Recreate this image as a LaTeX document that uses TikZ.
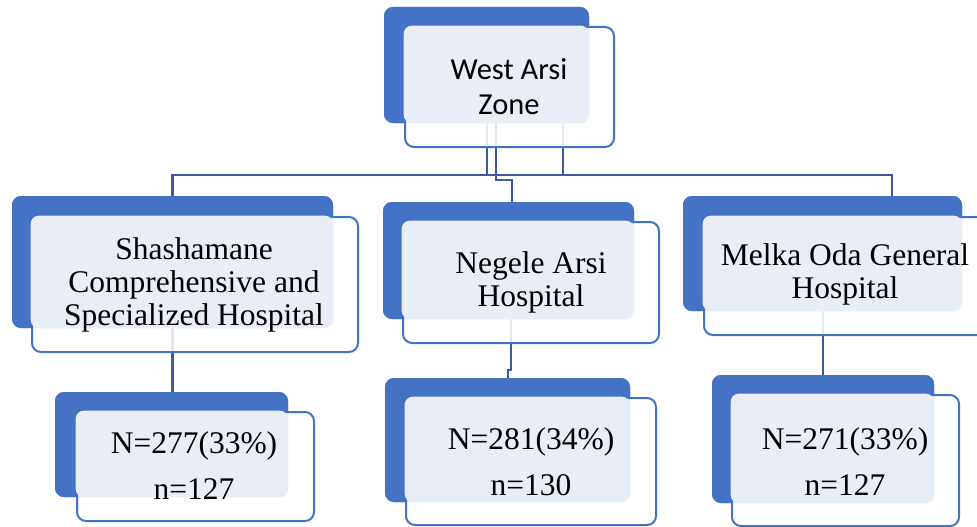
\documentclass[tikz,border=0pt]{standalone}
\usepackage{fontspec}
\setmainfont{Liberation Serif}
\newfontfamily\calib{Carlito}
\usetikzlibrary{fit}
\definecolor{accA}{HTML}{4472C4}
\definecolor{lightA}{HTML}{E9EDF6}
\definecolor{connA}{HTML}{3B5CA5}
\tikzset{
  backbox/.style={draw=none, fill=accA, rounded corners=9pt, inner sep=0pt, outer sep=0pt},
  frontbox/.style={draw=accA, line width=2pt, fill=white, fill opacity=0.85, draw opacity=1, rounded corners=9pt, inner sep=0pt, outer sep=0pt},
  lightbox/.style={draw=none, fill=lightA, rounded corners=8pt, inner sep=0pt, outer sep=0pt},
  conn/.style={draw=connA, line width=2.4pt},
  serifmid/.style={align=center, font=\fontsize{31.5}{33}\selectfont, inner sep=0pt},
  seriflow/.style={align=center, font=\fontsize{31.5}{46}\selectfont, inner sep=0pt},
  sanstop/.style={align=center, font=\calib\fontsize{30.5}{35}\selectfont, inner sep=0pt}
}
\begin{document}
\begin{tikzpicture}[x=1pt,y=-1pt]
\useasboundingbox (0,0) rectangle (977,527);
\clip (0,0) rectangle (977,527);
% back boxes first (named, used by connectors)
\node[backbox, fit={(384,7) (589,123)}] (wb) {};
\node[backbox, fit={(12,196) (333,328)}] (sb) {};
\node[backbox, fit={(383,202) (634,319)}] (nb) {};
\node[backbox, fit={(683,196) (962,311)}] (mb) {};
\node[backbox, fit={(55,392) (288,497)}] (ab) {};
\node[backbox, fit={(385,378) (630,502)}] (bb) {};
\node[backbox, fit={(712,375) (934,503)}] (cb) {};
% connector coordinates
\coordinate (t1) at (487,175);
\coordinate (t4) at (563,175);
\coordinate (t2) at (496,180);
\coordinate (t3) at (512,180);
\coordinate (busL) at (172.5,175);
\coordinate (busR) at (892,175);
\coordinate (u1) at (511,370);
\coordinate (u2) at (508,370);
% connectors
\draw[conn] (wb.south -| t1) -- (t1);
\draw[conn] (wb.south -| t4) -- (t4);
\draw[conn] (sb.north -| busL) -- (busL) -- (busR) -- (mb.north -| busR);
\draw[conn] (wb.south -| t2) -- (t2) -- (t3) -- (nb.north -| t3);
\draw[conn] (sb.south) -- (ab.north -| sb.south);
\draw[conn] (nb.south -| u1) -- (u1) -- (u2) -- (bb.north -| u2);
\draw[conn] (mb.south -| cb.north) -- (cb.north);
% redraw back boxes over connectors
\foreach \b in {wb,sb,nb,mb,ab,bb,cb} {\fill[accA, rounded corners=9pt] (\b.north west) rectangle (\b.south east);}
% front boxes
\node[frontbox, fit={(405,27) (614,147)}] (wf) {};
\node[frontbox, fit={(32,217) (358,352)}] (sf) {};
\node[frontbox, fit={(403,222) (659,343)}] (nf) {};
\node[frontbox, fit={(704,217) (995,335)}] (mf) {};
\node[frontbox, fit={(77,412) (314,521)}] (af) {};
\node[frontbox, fit={(406,398) (656,525)}] (bf) {};
\node[frontbox, fit={(732,395) (959,526)}] (cf) {};
% light overlays
\node[lightbox, fit={([shift={(-1.3,-1.3)}]wf.north west) (wb.south east)}] (wl) {};
\node[lightbox, fit={([shift={(-1.3,-1.3)}]sf.north west) (sb.south east)}] (sl) {};
\node[lightbox, fit={([shift={(-1.3,-1.3)}]nf.north west) (nb.south east)}] (nl) {};
\node[lightbox, fit={([shift={(-1.3,-1.3)}]mf.north west) (mb.south east)}] (ml) {};
\node[lightbox, fit={([shift={(-1.3,-1.3)}]af.north west) (ab.south east)}] (al) {};
\node[lightbox, fit={([shift={(-1.3,-1.3)}]bf.north west) (bb.south east)}] (bl) {};
\node[lightbox, fit={([shift={(-1.3,-1.3)}]cf.north west) (cb.south east)}] (cl) {};
% texts
\node[sanstop] (wt) at (509,87) {West Arsi\\Zone};
\node[serifmid] (st) at (194,285) {Shashamane\\Comprehensive and\\Specialized Hospital};
\node[serifmid] (nt) at (531,282) {Negele Arsi\\Hospital};
\node[serifmid] (mt) at (845,274) {Melka Oda General\\Hospital};
\node[seriflow] (at) at (194,466) {N=277(33\%)\\n=127};
\node[seriflow] (bt) at (531,462) {N=281(34\%)\\n=130};
\node[seriflow] (ct) at (845,462) {N=271(33\%)\\n=127};
\end{tikzpicture}
\end{document}
